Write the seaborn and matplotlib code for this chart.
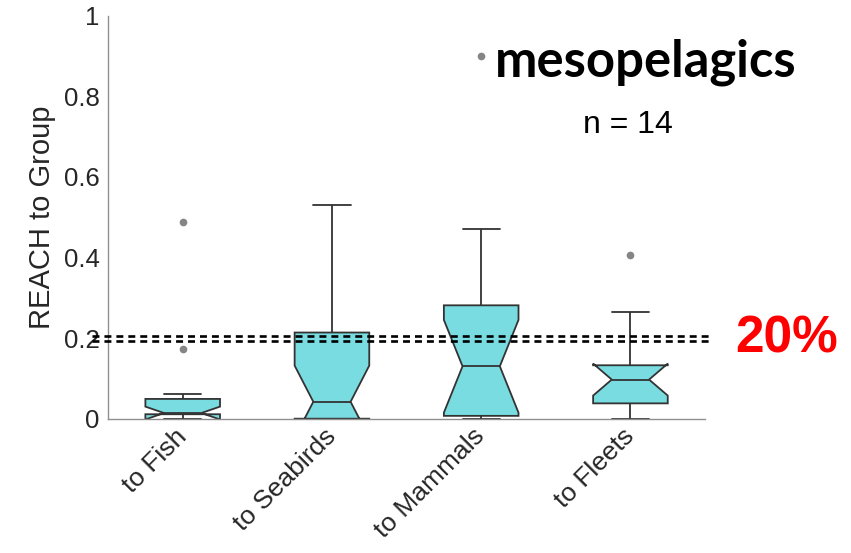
import numpy as np
import pandas as pd
import matplotlib
matplotlib.use("Agg")
import matplotlib.pyplot as plt
import matplotlib.transforms as mtransforms
import seaborn as sns

# REACH of mesopelagic groups to each predator / fleet group (n = 14 each)
categories = ["to Fish", "to Seabirds", "to Mammals", "to Fleets"]
reach_to_fish = [0.0, 0.003, 0.007, 0.011, 0.011, 0.012, 0.013, 0.015,
                 0.030, 0.046, 0.050, 0.0605, 0.172, 0.489]
reach_to_seabirds = [0.0, 0.0, 0.0, 0.0, 0.0, 0.010, 0.035, 0.049,
                     0.110, 0.180, 0.225, 0.300, 0.420, 0.530]
reach_to_mammals = [0.0, 0.0, 0.002, 0.004, 0.016, 0.060, 0.120, 0.140,
                    0.200, 0.270, 0.285, 0.330, 0.470, 0.900]
reach_to_fleets = [0.0, 0.010, 0.020, 0.035, 0.047, 0.060, 0.090, 0.104,
                   0.110, 0.125, 0.135, 0.200, 0.265, 0.405]

y_ticks = [0, 0.2, 0.4, 0.6, 0.8, 1]
y_tick_labels = ["0", "0.2", "0.4", "0.6", "0.8", "1"]
threshold = 0.2
threshold_label = "20%"
group_name = "mesopelagics"
n_label = "n = 14"
y_label = "REACH to Group"

BOX_FILL = "#79DCE0"
EDGE = "#333333"
FLIER = "#858585"
SPINE = "#8f8f8f"
TEXT = "#262626"

sns.set_style("white")
plt.rcParams["font.family"] = ["Liberation Sans", "DejaVu Sans"]
plt.rcParams["lines.scale_dashes"] = False

df = pd.DataFrame({
    "target": np.repeat(categories, 14),
    "reach": np.concatenate([reach_to_fish, reach_to_seabirds,
                             reach_to_mammals, reach_to_fleets]),
})

fig = plt.figure(figsize=(8.51, 5.53), dpi=100)
ax = fig.add_axes([0.127, 0.2429, 0.7015, 0.7288])

sns.boxplot(
    data=df, x="target", y="reach", order=categories, ax=ax,
    notch=True, width=0.5, color=BOX_FILL, saturation=1,
    linecolor=EDGE, linewidth=1.3, fliersize=4.5, whis=1.5,
    flierprops=dict(marker="o", markerfacecolor=FLIER,
                    markeredgecolor=FLIER),
)

ax.set_xlim(-0.5, len(categories) - 0.5)
ax.set_ylim(0, 1)
ax.set_yticks(y_ticks)
ax.set_yticklabels(y_tick_labels)
ax.set_xticks(range(len(categories)))
ax.set_xticklabels(categories, rotation=45, ha="right", va="center",
                   rotation_mode="anchor")
ax.set_xlabel("")
ax.set_ylabel(y_label, fontsize=21, color=TEXT, labelpad=6)

ax.tick_params(axis="y", direction="in", length=5, width=0.8, color=SPINE,
               labelsize=18.5, labelcolor=TEXT, pad=6)
ax.tick_params(axis="x", length=0, labelsize=19, labelcolor=TEXT, pad=10)

for side in ("top", "right"):
    ax.spines[side].set_visible(False)
for side in ("left", "bottom"):
    ax.spines[side].set_color(SPINE)
    ax.spines[side].set_linewidth(1.0)

# double dashed threshold line, running slightly past the axes
blend = mtransforms.blended_transform_factory(ax.transAxes, ax.transData)
for dy in (-1.8, 1.8):
    shift = mtransforms.ScaledTranslation(0, dy / 72, fig.dpi_scale_trans)
    ax.plot([-0.027, 1.012], [threshold, threshold], transform=blend + shift,
            color="black", lw=1.9, linestyle=(0, (5.0, 3.6)),
            clip_on=False, zorder=6)

fig.text(0.9242, 0.3622, threshold_label, color="#ff0000", fontsize=37,
         fontweight="bold", ha="center", va="baseline")
fig.text(0.7591, 0.8608, group_name, fontsize=36.5, fontweight="bold",
         color="black", family=["Lato", "DejaVu Sans"],
         ha="center", va="baseline")
fig.text(0.7374, 0.7595, n_label, fontsize=23, color="black",
         ha="center", va="baseline")

fig.savefig("out.png", dpi=100)
